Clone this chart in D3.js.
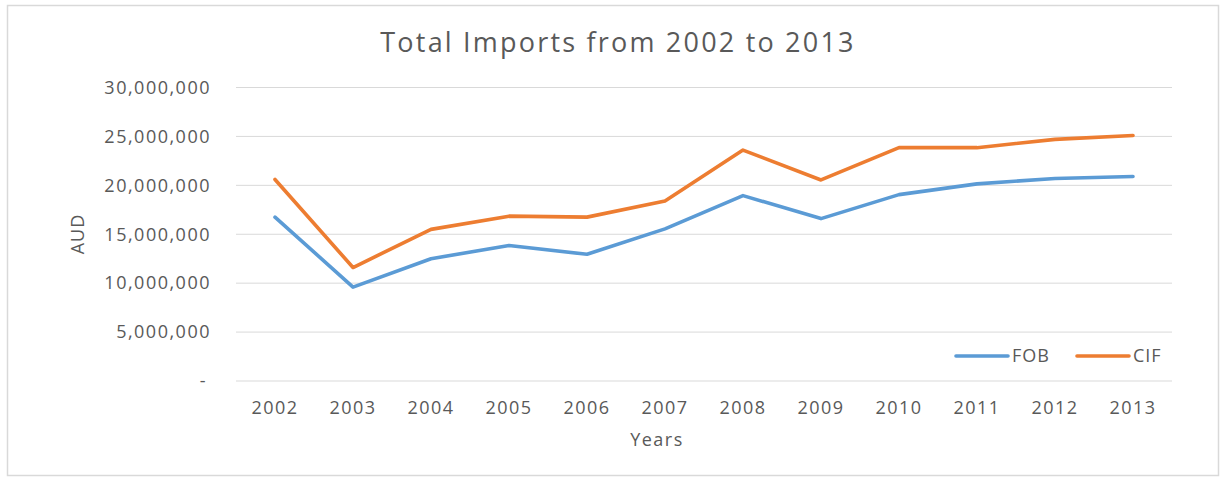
<!DOCTYPE html>
<html lang="en">
  <head>
    <meta charset="UTF-8" />
    <title>Total Imports</title>
    <style>
      body { margin: 0; background: #fff; }
      text { font-family: 'Open Sans', sans-serif; fill: #595959; }
    </style>
  </head>
  <body>
    <svg id="svg" width="1225" height="480"></svg>
    <script src="https://cdn.jsdelivr.net/npm/d3@7/dist/d3.min.js"></script>
    <script>
      const years = ['2002', '2003', '2004', '2005', '2006', '2007', '2008', '2009', '2010', '2011', '2012', '2013']
      const fob = [16.75e6, 9.6e6, 12.5e6, 13.85e6, 12.95e6, 15.55e6, 18.95e6, 16.6e6, 19.05e6, 20.15e6, 20.7e6, 20.9e6]
      const cif = [20.6e6, 11.6e6, 15.5e6, 16.85e6, 16.75e6, 18.4e6, 23.6e6, 20.55e6, 23.85e6, 23.85e6, 24.7e6, 25.1e6]
      const yTicks = [0, 5e6, 10e6, 15e6, 20e6, 25e6, 30e6]
      const series = [
        { name: 'FOB', values: fob, color: '#5b9bd5' },
        { name: 'CIF', values: cif, color: '#ed7d31' },
      ]

      const svg = d3.select('#svg')
      const margin = { left: 236, top: 87.5, right: 1172, bottom: 381 }

      // chart frame
      svg.append('rect')
        .attr('x', 7.5).attr('y', 5.5)
        .attr('width', 1211).attr('height', 470)
        .attr('fill', '#fff').attr('stroke', '#d9d9d9').attr('stroke-width', 1.5)

      const x = d3.scalePoint().domain(years).range([margin.left, margin.right]).padding(0.5)
      const y = d3.scaleLinear().domain([0, 30e6]).range([margin.bottom, margin.top])

      // gridlines
      svg.append('g')
        .selectAll('line')
        .data(yTicks)
        .enter()
        .append('line')
        .attr('x1', margin.left).attr('x2', margin.right)
        .attr('y1', (d) => y(d)).attr('y2', (d) => y(d))
        .attr('stroke', '#d9d9d9').attr('stroke-width', 1)

      // y labels
      const fmt = d3.format(',')
      svg.append('g')
        .selectAll('text')
        .data(yTicks)
        .enter()
        .append('text')
        .attr('x', (d) => (d === 0 ? 207 : 211))
        .attr('y', (d) => y(d))
        .attr('dy', '0.35em')
        .attr('text-anchor', 'end')
        .attr('font-size', 18)
        .attr('letter-spacing', 1.5)
        .text((d) => (d === 0 ? '-' : fmt(d)))

      // x labels
      svg.append('g')
        .selectAll('text')
        .data(years)
        .enter()
        .append('text')
        .attr('x', (d) => x(d))
        .attr('y', 408)
        .attr('dy', '0.35em')
        .attr('text-anchor', 'middle')
        .attr('font-size', 18)
        .attr('letter-spacing', 1.4)
        .text((d) => d)

      // lines
      const line = d3.line()
        .x((d, i) => x(years[i]))
        .y((d) => y(d))

      svg.append('g')
        .selectAll('path')
        .data(series)
        .enter()
        .append('path')
        .attr('d', (d) => line(d.values))
        .attr('fill', 'none')
        .attr('stroke', (d) => d.color)
        .attr('stroke-width', 3.6)
        .attr('stroke-linejoin', 'round')
        .attr('stroke-linecap', 'round')

      // titles
      svg.append('text')
        .attr('x', 618).attr('y', 43)
        .attr('dy', '0.35em')
        .attr('text-anchor', 'middle')
        .attr('font-size', 27)
        .attr('letter-spacing', 2.2)
        .text('Total Imports from 2002 to 2013')

      svg.append('text')
        .attr('x', 657).attr('y', 440)
        .attr('dy', '0.35em')
        .attr('text-anchor', 'middle')
        .attr('font-size', 18)
        .attr('letter-spacing', 1.5)
        .text('Years')

      svg.append('text')
        .attr('transform', 'translate(78,234) rotate(-90)')
        .attr('dy', '0.35em')
        .attr('text-anchor', 'middle')
        .attr('font-size', 18)
        .attr('letter-spacing', 1)
        .text('AUD')

      // legend
      const legend = svg.append('g')
        .selectAll('g')
        .data(series)
        .enter()
        .append('g')
        .attr('transform', (d, i) => `translate(${956 + i * 121},356)`)
      legend.append('line')
        .attr('x1', 0).attr('x2', 52)
        .attr('stroke', (d) => d.color)
        .attr('stroke-width', 3.6)
        .attr('stroke-linecap', 'round')
      legend.append('text')
        .attr('x', 56)
        .attr('dy', '0.35em')
        .attr('font-size', 18)
        .attr('letter-spacing', 1)
        .text((d) => d.name)
    </script>
  </body>
</html>
